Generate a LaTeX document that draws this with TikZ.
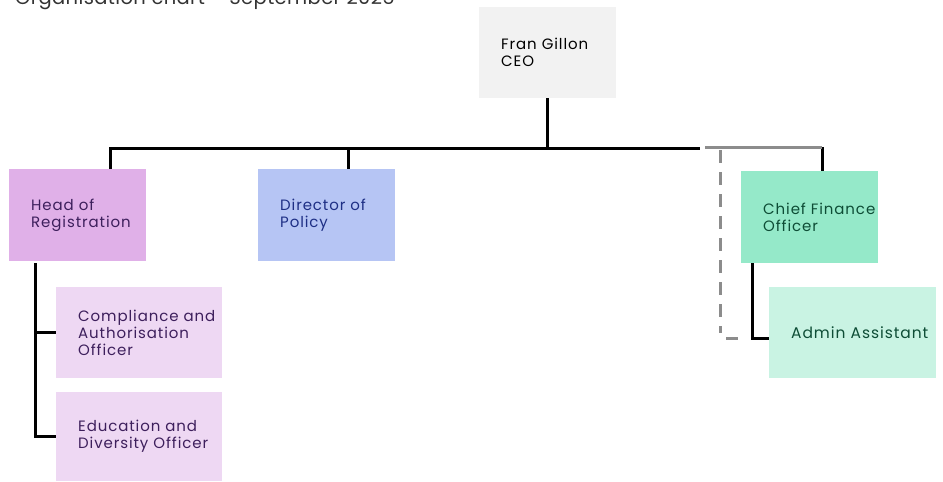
\documentclass[tikz,border=0pt]{standalone}
\usepackage{fontspec}
\setmainfont{Poppins}[LetterSpace=6]
\usetikzlibrary{positioning}

\definecolor{ceofill}{HTML}{F2F2F2}
\definecolor{regfill}{HTML}{E0B0E8}
\definecolor{regsub}{HTML}{EED8F3}
\definecolor{regtext}{HTML}{3D1F5C}
\definecolor{polfill}{HTML}{B6C5F4}
\definecolor{poltext}{HTML}{1E2F85}
\definecolor{finfill}{HTML}{95E9C9}
\definecolor{finsub}{HTML}{C9F3E3}
\definecolor{fintext}{HTML}{0E4D36}
\definecolor{titlegray}{HTML}{333333}
\definecolor{tracegray}{HTML}{8C8C8C}

\tikzset{
  post/.style={anchor=north west, inner xsep=22pt, inner ysep=0pt, align=left,
    font=\fontsize{15}{17}\selectfont, text width=93pt, minimum height=92pt},
  link/.style={line width=3pt, line join=miter},
  ghost/.style={line width=3pt, draw=tracegray},
}

\begin{document}
\begin{tikzpicture}[x=1pt,y=-1pt]
    \useasboundingbox (0,0) rectangle (943,482);

    % title, cut at the top edge
    \node[anchor=base west, inner sep=0pt, text=titlegray,
      font=\fontsize{19.5}{20}\selectfont\addfontfeatures{LetterSpace=2}] (title) at (15,4)
      {Organisation chart – September 2025};

    % boxes
    \node[post, fill=ceofill, minimum height=91pt] (ceo) at (479,7) {Fran Gillon\\CEO};
    \node[post, fill=regfill, text=regtext] (head) at (9,169) {Head of\\Registration};
    \node[post, fill=polfill, text=poltext] (policy) at (258,169) {Director of\\Policy};
    \node[post, fill=finfill, text=fintext] (cfo) at (741,171) {\mbox{Chief Finance}\\Officer};
    \node[post, fill=regsub, text=regtext, text width=122pt, minimum height=91pt]
      (compliance) at (56,287) {\mbox{Compliance and}\\Authorisation\\Officer};
    \node[post, fill=regsub, text=regtext, text width=122pt, minimum height=89pt]
      (education) at (56,392) {\mbox{Education and}\\\mbox{Diversity Officer}};
    \node[post, fill=finsub, text=fintext, text width=123pt, minimum height=91pt,
      font=\fontsize{15.5}{17}\selectfont] (admin) at (769,287) {\mbox{Admin Assistant}};

    % bus
    \coordinate (busL) at (110,148);
    \coordinate (busR) at (700,148);
    \coordinate (poltap) at (348,148);
    \coordinate (cfotap) at (822,147);
    \coordinate (regdown) at (35,263);
    \coordinate (findown) at (752,263);
    \coordinate (adminin) at (769,338);

    \draw[link] (ceo.south) -- (ceo.south |- busL);
    \draw[link] (busL |- head.north) -- (busL) -- (busR);
    \draw[link] (poltap) -- (poltap |- policy.north);
    \draw[link] (cfotap) -- (cfotap |- cfo.north);

    \draw[link] (regdown) -- (regdown |- education.west) -- (education.west);
    \draw[link] (regdown |- compliance.west) -- (compliance.west);
    \draw[link] (findown) -- (findown |- adminin) -- (adminin);

    % faded grey trace
    \draw[ghost] (705,147) -- (cfotap);
    \draw[ghost, dash pattern=on 13pt off 9pt] (720,150) -- (720,333);
    \draw[ghost] (726,338) -- (738,338);
\end{tikzpicture}
\end{document}
